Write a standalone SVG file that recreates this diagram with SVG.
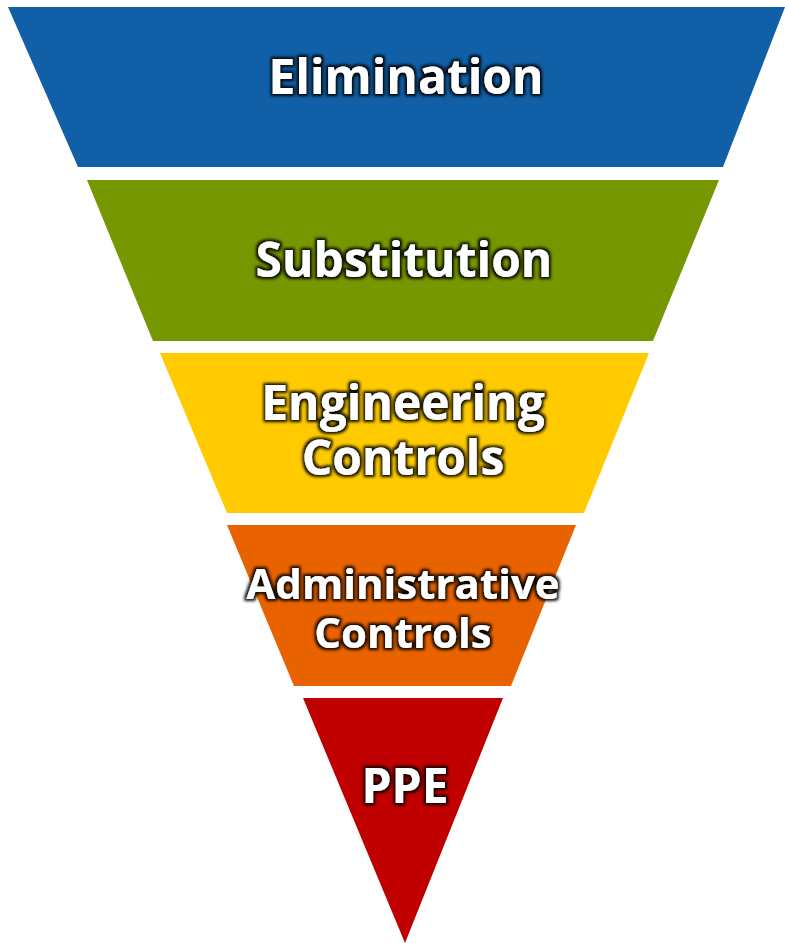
<svg xmlns="http://www.w3.org/2000/svg" width="785" height="943" viewBox="0 0 785 943">
  <defs>
    <filter id="glow" x="-10%" y="-30%" width="120%" height="160%">
      <feMorphology in="SourceAlpha" operator="dilate" radius="1.5" result="d"/>
      <feGaussianBlur in="d" stdDeviation="1.8" result="b"/>
      <feFlood flood-color="#000000" flood-opacity="0.95"/>
      <feComposite in2="b" operator="in" result="s"/>
      <feMerge>
        <feMergeNode in="s"/>
        <feMergeNode in="SourceGraphic"/>
      </feMerge>
    </filter>
  </defs>
  <style>
    .lbl { font-family: "Open Sans", "Noto Sans", "DejaVu Sans", sans-serif; font-weight: 700; fill: #ffffff; text-anchor: middle; filter: url(#glow); }
  </style>
  <rect width="785" height="943" fill="#ffffff"/>
  <g id="elimination">
    <polygon points="8,7 785,7 723,167 78,167" fill="#105FA7"/>
    <text class="lbl" x="406" y="94" font-size="48">Elimination</text>
  </g>
  <g id="substitution">
    <polygon points="87,180 719,180 653,341 153,341" fill="#769700"/>
    <text class="lbl" x="404" y="277" font-size="48">Substitution</text>
  </g>
  <g id="engineering">
    <polygon points="160,353 649,353 584,513 227,513" fill="#FFCB00"/>
    <text class="lbl" x="403" y="420" font-size="48">Engineering</text>
    <text class="lbl" x="403" y="475" font-size="48">Controls</text>
  </g>
  <g id="administrative">
    <polygon points="227,525 576,525 511,686 294,686" fill="#E96200"/>
    <text class="lbl" x="403" y="599" font-size="42">Administrative</text>
    <text class="lbl" x="403" y="648" font-size="42">Controls</text>
  </g>
  <g id="ppe">
    <polygon points="303,698 503,698 405,943" fill="#C00000"/>
    <text class="lbl" x="405" y="803" font-size="48">PPE</text>
  </g>
  <g id="connectors"/>
</svg>
